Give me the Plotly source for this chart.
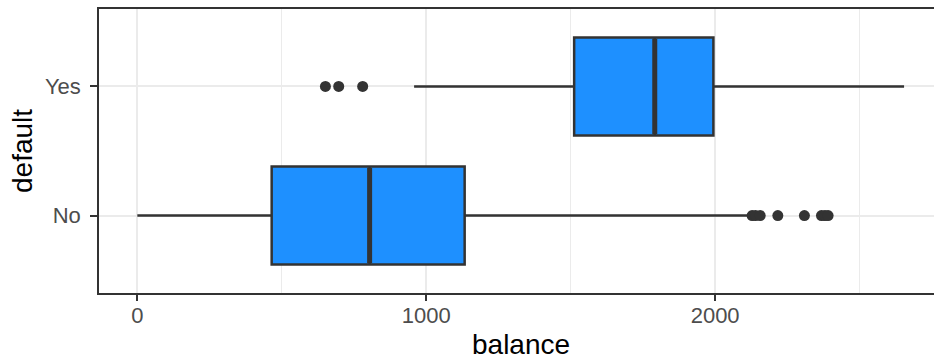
import plotly.graph_objects as go

# ---- data ----
categories = ["No", "Yes"]
q1 = [465, 1512]
median = [804, 1791]
q3 = [1133, 1994]
lower_whisker = [0, 958]
upper_whisker = [2124, 2654]
outliers_no = [2128, 2140, 2156, 2217, 2309, 2368, 2380, 2391]
outliers_yes = [651, 697, 780]

x_major_ticks = [0, 1000, 2000]
x_minor_ticks = [500, 1500, 2500]

FILL = "#1E90FF"
LINE = "#333333"
FONT = "Liberation Sans, Arial, Helvetica, sans-serif"
BOX_W = 0.76

fig = go.Figure()

for i, cat in enumerate(categories):
    fig.add_trace(go.Box(
        y=[i], q1=[q1[i]], median=[median[i]], q3=[q3[i]],
        lowerfence=[lower_whisker[i]], upperfence=[upper_whisker[i]],
        orientation="h", width=BOX_W, whiskerwidth=0,
        fillcolor=FILL, line=dict(color=LINE, width=2.5),
        boxpoints=False, showlegend=False, hoverinfo="skip",
    ))
    # thicker median line (ggplot style)
    fig.add_trace(go.Scatter(
        x=[median[i], median[i]], y=[i - BOX_W / 2 + 0.01, i + BOX_W / 2 - 0.01],
        mode="lines", line=dict(color=LINE, width=5),
        showlegend=False, hoverinfo="skip",
    ))

outlier_sets = [outliers_no, outliers_yes]
for i, pts in enumerate(outlier_sets):
    fig.add_trace(go.Scatter(
        x=pts, y=[i] * len(pts), mode="markers",
        marker=dict(color=LINE, size=11),
        showlegend=False, hoverinfo="skip",
    ))

fig.update_layout(
    template="none",
    width=934, height=362,
    margin=dict(l=99, r=0, t=9, b=69, pad=0),
    plot_bgcolor="white", paper_bgcolor="white",
    font=dict(family=FONT, color="#4D4D4D", size=22),
    xaxis=dict(
        automargin=False,
        range=[-132.7, 2757.6],
        tickvals=x_major_ticks, ticktext=[str(v) for v in x_major_ticks],
        showgrid=True, gridcolor="#EBEBEB", gridwidth=1.6,
        minor=dict(tickvals=x_minor_ticks, showgrid=True, gridcolor="#EBEBEB", gridwidth=0.8, ticks=""),
        showline=True, linecolor=LINE, linewidth=1.6, mirror=True,
        ticks="outside", ticklen=6, tickwidth=1.6, tickcolor=LINE,
        ticklabelstandoff=-4,
        tickfont=dict(size=22, color="#4D4D4D"),
        zeroline=False,
    ),
    yaxis=dict(
        automargin=False,
        range=[-0.6, 1.6],
        tickvals=[0, 1], ticktext=categories,
        showgrid=True, gridcolor="#EBEBEB", gridwidth=1.6,
        showline=True, linecolor=LINE, linewidth=1.6, mirror=False,
        ticks="outside", ticklen=7, tickwidth=1.6, tickcolor=LINE,
        ticklabelstandoff=5,
        tickfont=dict(size=22, color="#4D4D4D"),
        zeroline=False,
    ),
    annotations=[
        dict(text="balance", xref="paper", yref="paper", x=0.5048, y=-0.183,
             xanchor="center", yanchor="middle", showarrow=False,
             font=dict(size=28, color="black", family=FONT)),
        dict(text="default", xref="paper", yref="paper", x=-0.0922, y=0.5,
             xanchor="center", yanchor="middle", showarrow=False, textangle=-90,
             font=dict(size=28, color="black", family=FONT)),
    ],
)

fig.write_html(
    "out.html",
    config={"displayModeBar": False},
    post_script="document.body.style.margin='0px';document.body.style.overflow='hidden';",
)
